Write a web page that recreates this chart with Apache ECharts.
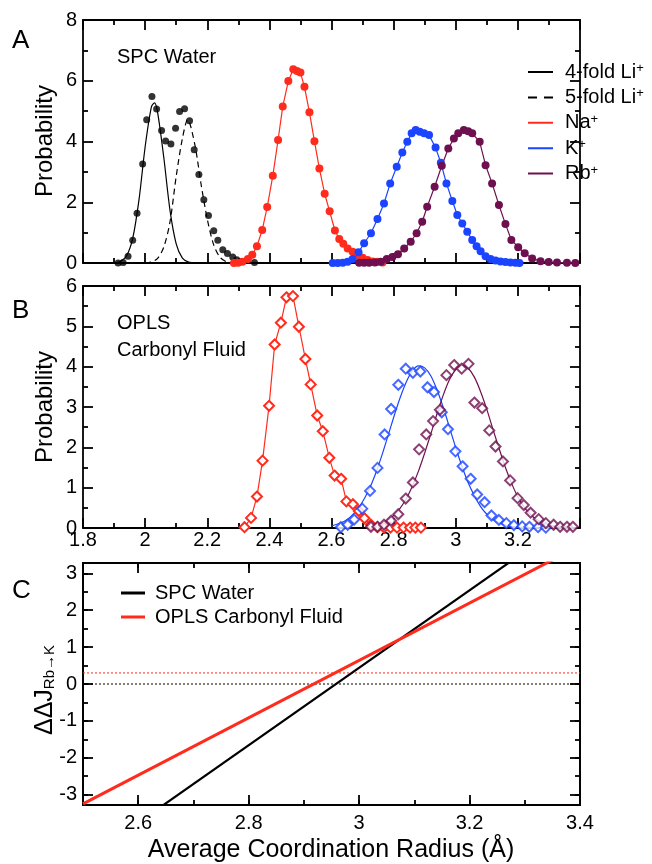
<!DOCTYPE html>
<html><head><meta charset="utf-8">
<script src="https://cdn.jsdelivr.net/npm/echarts@6/dist/echarts.min.js"></script>
<style>html,body{margin:0;padding:0;background:#fff}#c{width:652px;height:864px}</style>
</head><body><div id="c"></div>
<script>
const FONT = '"Liberation Sans", Arial, Helvetica, sans-serif';
const RED = '#ff2b1c', BLUE = '#1a44ff', PURPLE = '#6e1050', BLACK = '#000';

// ---------- Panel A : SPC water ----------
const liDots = [[1.913,0.0],[1.929,0.02],[1.945,0.22],[1.960,0.75],[1.974,1.64],[1.992,3.26],[2.005,4.72],[2.022,5.48],[2.037,5.07],[2.053,4.36],[2.066,4.02],[2.083,3.92],[2.098,4.44],[2.111,4.99],[2.127,5.08],[2.143,4.68],[2.158,3.73],[2.173,2.91],[2.189,2.08],[2.204,1.56],[2.221,1.06],[2.234,0.75],[2.250,0.44],[2.265,0.31],[2.282,0.20],[2.295,0.11],[2.311,0.05],[2.352,0.02]];
const li4Fit = [[1.90,0],[1.92,0.05],[1.94,0.23],[1.96,0.81],[1.98,2.06],[2.00,3.82],[2.02,5.13],[2.03,5.27],[2.04,4.97],[2.06,3.48],[2.08,1.74],[2.10,0.63],[2.12,0.16],[2.14,0.03],[2.16,0]];
const li5Fit = [[2.00,0],[2.02,0.03],[2.04,0.15],[2.06,0.52],[2.08,1.35],[2.10,2.85],[2.12,4.10],[2.137,4.72],[2.16,3.90],[2.18,2.60],[2.20,1.45],[2.22,0.62],[2.24,0.20],[2.26,0.05],[2.28,0]];
const naA = [[2.286,0.0],[2.299,0.01],[2.313,0.04],[2.331,0.13],[2.345,0.27],[2.360,0.55],[2.377,1.09],[2.393,1.84],[2.411,2.87],[2.428,4.05],[2.443,5.15],[2.461,5.99],[2.477,6.38],[2.489,6.32],[2.500,6.27],[2.513,5.80],[2.529,4.96],[2.545,4.01],[2.561,3.11],[2.578,2.28],[2.594,1.70],[2.611,1.07],[2.625,0.79],[2.638,0.63],[2.652,0.48],[2.668,0.37],[2.684,0.26],[2.700,0.17],[2.716,0.10],[2.732,0.05],[2.748,0.04],[2.764,0.02]];
const kA = [[2.604,0],[2.620,0],[2.636,0.01],[2.652,0.04],[2.668,0.13],[2.687,0.35],[2.705,0.65],[2.727,0.98],[2.748,1.45],[2.769,1.96],[2.789,2.62],[2.810,3.17],[2.828,3.64],[2.844,3.99],[2.858,4.27],[2.871,4.38],[2.884,4.32],[2.898,4.27],[2.914,4.21],[2.935,3.80],[2.952,3.30],[2.970,2.62],[2.989,2.04],[3.005,1.58],[3.021,1.30],[3.037,1.03],[3.053,0.76],[3.067,0.55],[3.080,0.39],[3.096,0.22],[3.112,0.13],[3.128,0.08],[3.144,0.05],[3.160,0.03],[3.176,0.02],[3.192,0.01],[3.205,0]];
const rbA = [[2.689,0.01],[2.705,0.01],[2.721,0.01],[2.740,0.02],[2.759,0.04],[2.778,0.13],[2.796,0.20],[2.814,0.29],[2.834,0.48],[2.855,0.70],[2.874,0.98],[2.892,1.36],[2.908,1.85],[2.932,2.51],[2.955,3.20],[2.976,3.77],[2.994,4.10],[3.008,4.27],[3.026,4.38],[3.040,4.34],[3.053,4.27],[3.077,3.99],[3.096,3.22],[3.117,2.62],[3.139,1.91],[3.160,1.28],[3.179,0.76],[3.201,0.52],[3.222,0.32],[3.246,0.15],[3.273,0.06],[3.299,0.03],[3.326,0.02],[3.358,0.01],[3.385,0.0]];

// ---------- Panel B : OPLS carbonyl fluid ----------
const naB = [[2.320,0.02],[2.341,0.25],[2.360,0.78],[2.378,1.67],[2.399,3.03],[2.417,4.55],[2.437,5.09],[2.455,5.72],[2.476,5.75],[2.495,4.99],[2.516,4.19],[2.533,3.56],[2.554,2.79],[2.572,2.40],[2.593,1.74],[2.610,1.30],[2.631,1.22],[2.648,0.66],[2.669,0.59],[2.688,0.42],[2.706,0.24],[2.727,0.08],[2.748,0.02],[2.769,0.01],[2.790,0.01],[2.811,0.01],[2.832,0.01],[2.853,0.01],[2.870,0.01],[2.888,0.01]];
const kB = [[2.630,0.02],[2.652,0.08],[2.673,0.21],[2.699,0.48],[2.724,0.92],[2.748,1.49],[2.771,2.32],[2.792,2.95],[2.815,3.55],[2.839,3.95],[2.862,3.85],[2.886,3.88],[2.909,3.49],[2.930,3.37],[2.955,2.87],[2.975,2.45],[2.999,1.90],[3.022,1.53],[3.048,1.22],[3.069,0.83],[3.093,0.64],[3.115,0.31],[3.139,0.20],[3.163,0.12],[3.187,0.07],[3.214,0.04],[3.237,0.03],[3.265,0.02],[3.290,0.01]];
const kBFit = [[2.60,0.05],[2.62,0.10],[2.64,0.16],[2.66,0.27],[2.68,0.43],[2.70,0.65],[2.72,0.94],[2.74,1.31],[2.76,1.75],[2.78,2.24],[2.80,2.74],[2.82,3.21],[2.84,3.61],[2.86,3.89],[2.88,4.02],[2.90,3.97],[2.92,3.77],[2.94,3.42],[2.96,2.98],[2.98,2.49],[3.00,1.99],[3.02,1.53],[3.04,1.12],[3.06,0.80],[3.08,0.53],[3.10,0.34],[3.12,0.21],[3.14,0.13],[3.16,0.07],[3.18,0.04],[3.20,0.02],[3.24,0.01],[3.28,0]];
const rbB = [[2.727,0.03],[2.748,0.03],[2.769,0.08],[2.792,0.18],[2.815,0.34],[2.839,0.73],[2.862,1.13],[2.882,1.95],[2.905,2.32],[2.927,2.65],[2.949,2.93],[2.970,3.79],[2.995,4.04],[3.019,3.95],[3.041,4.07],[3.060,3.11],[3.085,2.97],[3.108,2.42],[3.128,2.02],[3.152,1.65],[3.175,1.18],[3.199,0.74],[3.219,0.57],[3.241,0.38],[3.267,0.22],[3.290,0.12],[3.315,0.08],[3.336,0.03],[3.358,0.03],[3.377,0.03]];
const rbBFit = [[2.74,0.06],[2.76,0.11],[2.78,0.19],[2.80,0.31],[2.82,0.48],[2.84,0.72],[2.86,1.03],[2.88,1.41],[2.90,1.86],[2.92,2.34],[2.94,2.84],[2.96,3.30],[2.98,3.68],[3.00,3.93],[3.02,4.03],[3.04,3.96],[3.06,3.74],[3.08,3.38],[3.10,2.94],[3.12,2.44],[3.14,1.96],[3.16,1.50],[3.18,1.10],[3.20,0.77],[3.22,0.52],[3.24,0.34],[3.26,0.21],[3.28,0.13],[3.30,0.07],[3.32,0.04],[3.34,0.02],[3.36,0.01],[3.38,0.005]];

// ---------- Panel C : ΔΔJ lines ----------
const spcLine = [[2.60,-3.76],[3.30,3.59]];
const oplsLine = [[2.50,-3.25],[3.40,3.75]];
const refLevels = [0, 0.3];       // dotted reference levels (black, red)
const refColors = [BLACK, RED];

// axis ranges
const xRangeAB = [1.8, 3.4];
const yRangeA = [0, 8], yRangeB = [0, 6];
const xRangeC = [2.5, 3.4], yRangeC = [-3.28, 3.28];

const LW = 1.8;
function axis(gridIndex, position, range, extra) {
  return Object.assign({
    type: 'value', gridIndex: gridIndex, position: position, min: range[0], max: range[1],
    axisLine: { show: true, onZero: false, lineStyle: { color: BLACK, width: LW } },
    axisTick: { show: true, inside: true, length: 10, lineStyle: { color: BLACK, width: LW } },
    minorTick: { show: false },
    axisLabel: { show: false },
    splitLine: { show: false },
    minorSplitLine: { show: false }
  }, extra || {});
}
const minor2 = { show: true, splitNumber: 2, length: 5, lineStyle: { color: BLACK, width: LW } };
const shortTick = { show: true, inside: true, length: 5, lineStyle: { color: BLACK, width: LW } };
const lbl = (o) => Object.assign({ show: true, fontSize: 20, fontFamily: FONT, color: BLACK }, o);
const fmtNum = v => String(Math.round(v * 10) / 10);

const xAxis = [
  axis(0, 'bottom', xRangeAB, { interval: 0.2, minorTick: minor2 }),
  axis(0, 'top', xRangeAB, { interval: 0.2, minorTick: minor2 }),
  axis(1, 'bottom', xRangeAB, { interval: 0.2, minorTick: minor2, axisLabel: lbl({ margin: 2, showMaxLabel: false, formatter: fmtNum }) }),
  axis(1, 'top', xRangeAB, { interval: 0.2, minorTick: minor2 }),
  axis(2, 'bottom', xRangeC, { splitNumber: 5, axisLabel: lbl({ margin: 8, formatter: v => (Math.abs(v * 5 - Math.round(v * 5)) < 1e-6 ? fmtNum(v) : '') }) }),
  axis(2, 'bottom', xRangeC, { interval: 0.1, axisTick: shortTick }),
  axis(2, 'top', xRangeC, { splitNumber: 5 }),
  axis(2, 'top', xRangeC, { interval: 0.1, axisTick: shortTick })
];
const yAxis = [
  axis(0, 'left', yRangeA, { interval: 2, minorTick: minor2, axisLabel: lbl({ margin: 6 }) }),
  axis(0, 'right', yRangeA, { interval: 2, minorTick: minor2 }),
  axis(1, 'left', yRangeB, { interval: 1, minorTick: minor2, axisLabel: lbl({ margin: 6 }) }),
  axis(1, 'right', yRangeB, { interval: 1, minorTick: minor2 }),
  axis(2, 'left', yRangeC, { splitNumber: 6, axisLabel: lbl({ margin: 6, formatter: v => (Math.abs(v - Math.round(v)) < 1e-6 ? String(Math.round(v)) : '') }) }),
  axis(2, 'left', yRangeC, { splitNumber: 13, axisTick: shortTick }),
  axis(2, 'right', yRangeC, { splitNumber: 6 }),
  axis(2, 'right', yRangeC, { splitNumber: 13, axisTick: shortTick })
];

function dotLine(name, data, color, xi, yi) {
  return { type: 'line', name: name, data: data, xAxisIndex: xi, yAxisIndex: yi,
    symbol: 'circle', symbolSize: 8, showSymbol: true, showAllSymbol: true,
    itemStyle: { color: color }, lineStyle: { color: color, width: 1.2 }, z: 3, animation: false };
}
function fitLine(name, data, color, xi, yi, type) {
  return { type: 'line', name: name, data: data, xAxisIndex: xi, yAxisIndex: yi, smooth: 0.3,
    showSymbol: false, symbol: 'none', itemStyle: { color: color },
    lineStyle: { color: color, width: 1.2, type: type || 'solid' }, z: 2, animation: false };
}
function diamonds(name, data, color, xi, yi, withLine) {
  return { type: withLine ? 'line' : 'scatter', name: name, data: data, xAxisIndex: xi, yAxisIndex: yi,
    symbol: 'emptyDiamond', symbolSize: 10, showAllSymbol: true,
    itemStyle: { color: color, borderColor: color, borderWidth: 1.3 },
    lineStyle: { color: color, width: 1.2 }, z: 3, animation: false };
}

const series = [
  // A
  { type: 'scatter', name: 'Li dots', data: liDots, xAxisIndex: 0, yAxisIndex: 0, symbolSize: 7, itemStyle: { color: BLACK }, z: 3, animation: false },
  fitLine('4-fold Li+', li4Fit, BLACK, 0, 0),
  fitLine('5-fold Li+', li5Fit, BLACK, 0, 0, [6, 4]),
  dotLine('Na+', naA, RED, 0, 0),
  dotLine('K+', kA, BLUE, 0, 0),
  dotLine('Rb+', rbA, PURPLE, 0, 0),
  // B
  diamonds('Na+ OPLS', naB, RED, 2, 2, true),
  diamonds('K+ OPLS', kB, BLUE, 2, 2, false),
  fitLine('K+ OPLS fit', kBFit, BLUE, 2, 2),
  diamonds('Rb+ OPLS', rbB, PURPLE, 2, 2, false),
  fitLine('Rb+ OPLS fit', rbBFit, PURPLE, 2, 2)
];
refLevels.forEach((v, i) => series.push({ type: 'line', name: 'ref' + i, data: [[xRangeC[0], v], [xRangeC[1], v]],
  xAxisIndex: 5, yAxisIndex: 4, symbol: 'none', lineStyle: { color: refColors[i], width: 1, type: [2, 2] }, z: 1, animation: false }));
series.push({ type: 'line', name: 'SPC Water', data: spcLine, xAxisIndex: 5, yAxisIndex: 4, symbol: 'none',
  itemStyle: { color: BLACK }, lineStyle: { color: BLACK, width: 2.2 }, z: 3, animation: false, clip: true });
series.push({ type: 'line', name: 'OPLS Carbonyl Fluid', data: oplsLine, xAxisIndex: 5, yAxisIndex: 4, symbol: 'none',
  itemStyle: { color: RED }, lineStyle: { color: RED, width: 3 }, z: 3, animation: false, clip: true });

const supFmt = n => {
  const m = n.match(/^(.*)\+$/);
  return m ? '{t|' + m[1] + '}{s|+}' : '{t|' + n + '}';
};
const legendText = {
  fontSize: 20, fontFamily: FONT, color: BLACK, lineHeight: 20,
  rich: { t: { fontSize: 20, fontFamily: FONT, color: BLACK, lineHeight: 20 },
          s: { fontSize: 13, fontFamily: FONT, color: BLACK, verticalAlign: 'top', lineHeight: 10 } }
};
// legend icons: 25 px stroke inside a 32 px wide icon box (blank right margin)
const solidIcon = 'path://M0,0L25,0L25,2L0,2Z M31.95,1.99L32,1.99L32,2Z';
const dashIcon = 'path://M0,0L9,0L9,2L0,2Z M16,0L25,0L25,2L16,2Z M31.95,1.99L32,1.99L32,2Z';

const option = {
  animation: false,
  textStyle: { fontFamily: FONT },
  grid: [
    { left: 83, top: 20, width: 497, height: 243 },
    { left: 83, top: 286, width: 497, height: 242 },
    { left: 83, top: 563, width: 497, height: 242 }
  ],
  xAxis: xAxis, yAxis: yAxis, series: series,
  legend: [
    { data: ['4-fold Li+', { name: '5-fold Li+', icon: dashIcon }, 'Na+', 'K+', 'Rb+'],
      icon: solidIcon,
      orient: 'vertical', left: 523, top: 57, padding: 5, itemWidth: 32, itemHeight: 2, itemGap: 5.4, selectedMode: false,
      textStyle: legendText, formatter: supFmt },
    { data: ['SPC Water', 'OPLS Carbonyl Fluid'], icon: 'rect',
      orient: 'vertical', left: 116, top: 578, padding: 5, itemWidth: 24, itemHeight: 3, itemGap: 4, selectedMode: false,
      textStyle: { fontSize: 20, fontFamily: FONT, color: BLACK, lineHeight: 20,
        rich: { t: { fontSize: 20, fontFamily: FONT, color: BLACK, padding: [0, 0, 0, 5], lineHeight: 20 } } },
      formatter: n => '{t|' + n + '}' }
  ],
  graphic: [
    { type: 'text', x: 12, y: 41, style: { text: 'A', fontSize: 26, fontFamily: FONT, fill: BLACK, align: 'left', verticalAlign: 'middle' } },
    { type: 'text', x: 12, y: 311, style: { text: 'B', fontSize: 26, fontFamily: FONT, fill: BLACK, align: 'left', verticalAlign: 'middle' } },
    { type: 'text', x: 12, y: 591, style: { text: 'C', fontSize: 26, fontFamily: FONT, fill: BLACK, align: 'left', verticalAlign: 'middle' } },
    { type: 'text', x: 117, y: 57, style: { text: 'SPC Water', fontSize: 20, fontFamily: FONT, fill: BLACK, align: 'left', verticalAlign: 'middle' } },
    { type: 'text', x: 117, y: 323, style: { text: 'OPLS', fontSize: 20, fontFamily: FONT, fill: BLACK, align: 'left', verticalAlign: 'middle' } },
    { type: 'text', x: 117, y: 350, style: { text: 'Carbonyl Fluid', fontSize: 20, fontFamily: FONT, fill: BLACK, align: 'left', verticalAlign: 'middle' } },
    { type: 'text', x: 45, y: 141, rotation: Math.PI / 2, style: { text: 'Probability', fontSize: 24, fontFamily: FONT, fill: BLACK, align: 'center', verticalAlign: 'middle' } },
    { type: 'text', x: 45, y: 407, rotation: Math.PI / 2, style: { text: 'Probability', fontSize: 24, fontFamily: FONT, fill: BLACK, align: 'center', verticalAlign: 'middle' } },
    { type: 'text', x: 45, y: 690, rotation: Math.PI / 2, style: { text: '{m|ΔΔJ}{s|Rb→K}', align: 'center', verticalAlign: 'middle',
        rich: { m: { fontSize: 25, fontFamily: FONT, fill: BLACK, color: BLACK, lineHeight: 25, verticalAlign: 'top' },
                s: { fontSize: 15, fontFamily: FONT, fill: BLACK, color: BLACK, lineHeight: 15, padding: [18, 0, 0, 0], verticalAlign: 'bottom' } } } },
    { type: 'text', x: 331, y: 850, style: { text: 'Average Coordination Radius (Å)', fontSize: 25, fontFamily: FONT, fill: BLACK, align: 'center', verticalAlign: 'middle' } }
  ]
};
const chart = echarts.init(document.getElementById('c'), null, { renderer: 'canvas' });
chart.setOption(option);
</script></body></html>
